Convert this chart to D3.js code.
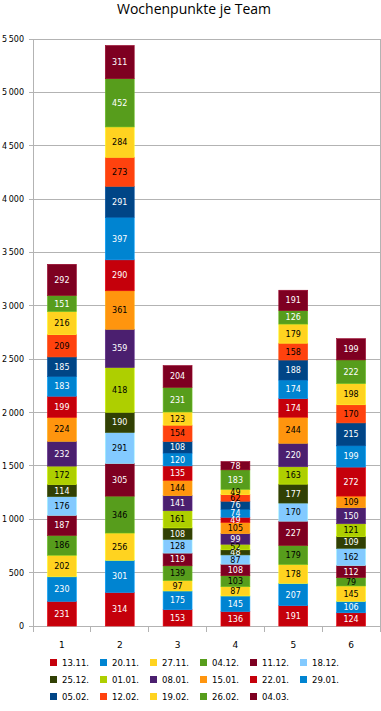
<!DOCTYPE html>
<html><head><meta charset="utf-8">
<script src="https://cdn.jsdelivr.net/npm/d3@7"></script>
<style>body{margin:0;background:#fff}svg{display:block}</style>
</head><body><svg id="c" width="381" height="711"></svg>
<script>
const teams = ["1","2","3","4","5","6"];
const weeks = ["13.11.","20.11.","27.11.","04.12.","11.12.","18.12.","25.12.","01.01.","08.01.","15.01.","22.01.","29.01.","05.02.","12.02.","19.02.","26.02.","04.03."];
const colors = ["#c5000b","#0084d1","#ffd320","#579d1c","#7e0021","#83caff","#314004","#aecf00","#4b1f6f","#ff950e","#c5000b","#0084d1","#004586","#ff420e","#ffd320","#579d1c","#7e0021"];
const labelColors = ["#fff","#fff","#000","#000","#fff","#000","#fff","#000","#fff","#000","#fff","#fff","#fff","#000","#000","#fff","#fff"];
// values per week (rows) for teams 1..6
const w1311 = [231,314,153,136,191,124];
const w2011 = [230,301,175,145,207,106];
const w2711 = [202,256,97,87,178,145];
const w0412 = [186,346,139,103,179,79];
const w1112 = [187,305,119,108,227,112];
const w1812 = [176,291,128,87,170,162];
const w2512 = [114,190,108,48,177,109];
const w0101 = [172,418,161,52,163,121];
const w0801 = [232,359,141,99,220,150];
const w1501 = [224,361,144,105,244,109];
const w2201 = [199,290,135,49,174,272];
const w2901 = [183,397,120,74,174,199];
const w0502 = [185,291,108,76,188,215];
const w1202 = [209,273,154,62,158,170];
const w1902 = [216,284,123,49,179,198];
const w2602 = [151,452,231,183,126,222];
const w0403 = [292,311,204,78,191,199];
const series = [w1311,w2011,w2711,w0412,w1112,w1812,w2512,w0101,w0801,w1501,w2201,w2901,w0502,w1202,w1902,w2602,w0403];
const yTicks = [0,500,1000,1500,2000,2500,3000,3500,4000,4500,5000,5500];

const svg = d3.select("#c");
const L = 33, R = 380, T = 39, B = 626;
const x = d3.scaleBand().domain(teams).range([L, R]).paddingInner(0.5).paddingOuter(0.25);
const xb = d3.scaleBand().domain(teams).range([L, R]);
const y = d3.scaleLinear().domain([0, 5500]).range([B, T]);
const font = "DejaVu Sans, sans-serif";

svg.append("text").attr("x", 194).attr("y", 14).attr("text-anchor", "middle")
  .attr("font-family", "Open Sans, sans-serif").attr("font-size", 14).attr("fill", "#000")
  .text("Wochenpunkte je Team");

// gridlines
svg.append("g").selectAll("line").data(yTicks).join("line")
  .attr("x1", L - 4).attr("x2", R).attr("y1", d => y(d)).attr("y2", d => y(d))
  .attr("stroke", "#b3b3b3").attr("stroke-width", 1).attr("shape-rendering", "crispEdges");
// plot frame
svg.append("line").attr("x1", L).attr("x2", L).attr("y1", T).attr("y2", B).attr("stroke", "#b3b3b3").attr("shape-rendering", "crispEdges");
svg.append("line").attr("x1", R).attr("x2", R).attr("y1", T).attr("y2", B).attr("stroke", "#b3b3b3").attr("shape-rendering", "crispEdges");
// x ticks at category boundaries
const bounds = teams.map(t => xb(t)).concat([R]);
svg.append("g").selectAll("line").data(bounds).join("line")
  .attr("x1", d => d).attr("x2", d => d).attr("y1", B).attr("y2", B + 6)
  .attr("stroke", "#b3b3b3").attr("shape-rendering", "crispEdges");

// y labels
svg.append("g").selectAll("text").data(yTicks).join("text")
  .attr("x", 24).attr("y", d => y(d) + 3).attr("text-anchor", "end")
  .attr("font-family", font).attr("font-size", 8).attr("fill", "#000")
  .text(d => d >= 1000 ? Math.floor(d/1000) + "\u2009" + String(d%1000).padStart(3,"0") : d);

// x labels
svg.append("g").selectAll("text").data(teams).join("text")
  .attr("x", d => xb(d) + xb.bandwidth()/2).attr("y", 648).attr("text-anchor", "middle")
  .attr("font-family", font).attr("font-size", 9).attr("fill", "#000").text(d => d);

// stack
const rows = teams.map((t, i) => { const o = {team: t}; weeks.forEach((w, j) => o[w] = series[j][i]); return o; });
const stacked = d3.stack().keys(weeks)(rows);
const g = svg.append("g");
stacked.forEach((layer, j) => {
  const lg = g.append("g");
  lg.selectAll("rect").data(layer).join("rect")
    .attr("x", d => x(d.data.team)).attr("width", x.bandwidth())
    .attr("y", d => y(d[1])).attr("height", d => y(d[0]) - y(d[1]))
    .attr("fill", colors[j])
    .attr("stroke", d3.color(colors[j]).brighter(0.5)).attr("stroke-width", 0.6);
});
stacked.forEach((layer, j) => {
  g.append("g").selectAll("text").data(layer).join("text")
    .attr("x", d => x(d.data.team) + x.bandwidth()/2)
    .attr("y", d => (y(d[0]) + y(d[1]))/2 + 3)
    .attr("text-anchor", "middle").attr("font-family", font).attr("font-size", 8)
    .attr("fill", labelColors[j]).text(d => d[1] - d[0]);
});

// legend
const lgd = svg.append("g");
weeks.forEach((w, i) => {
  const col = i % 6, row = Math.floor(i / 6);
  const lx = 50 + col * 50, ly = 663 + row * 17;
  lgd.append("rect").attr("x", lx).attr("y", ly - 4).attr("width", 7).attr("height", 7).attr("fill", colors[i]);
  lgd.append("text").attr("x", lx + 12).attr("y", ly + 3).attr("font-family", font).attr("font-size", 8.5).attr("fill", "#000").text(w);
});
</script></body></html>
